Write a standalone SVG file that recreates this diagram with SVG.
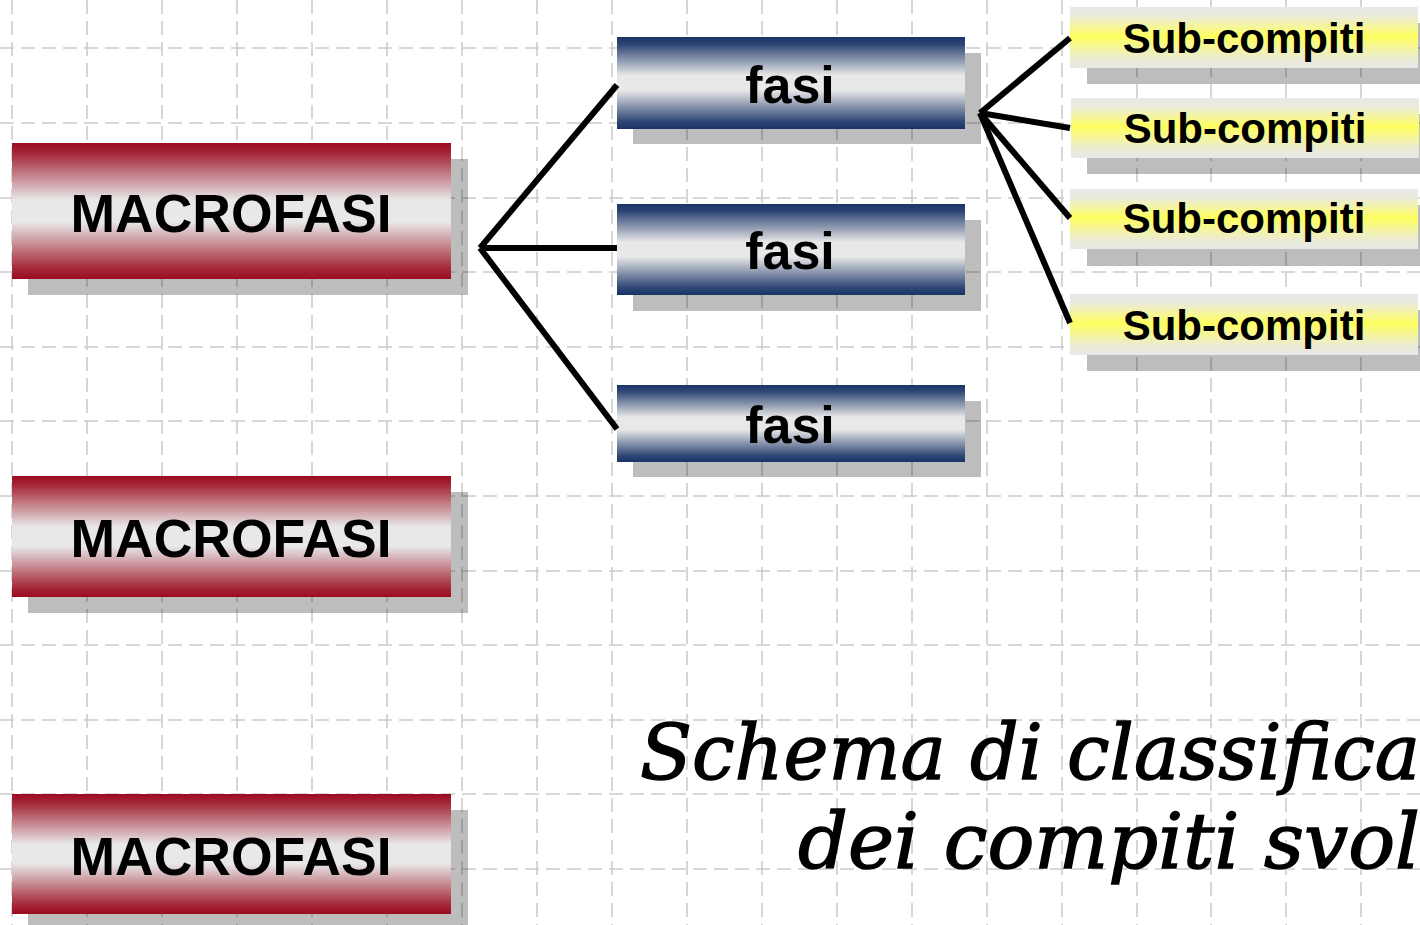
<svg xmlns="http://www.w3.org/2000/svg" width="1420" height="925" viewBox="0 0 1420 925">
  <style>
    .grid line { stroke: #cccccc; stroke-width: 1.6; stroke-dasharray: 14 7; }
    .shadow { fill: #000000; fill-opacity: 0.26; }
    .macro { fill: url(#gRed); }
    .fase { fill: url(#gBlue); }
    .sub { fill: url(#gYellow); }
    .lbl { font-family: "Liberation Sans", Arial, sans-serif; font-weight: bold; fill: #000000; text-anchor: middle; }
    .lbl-macro { font-size: 53.5px; }
    .lbl-fase { font-size: 52px; }
    .lbl-sub { font-size: 42px; }
    .conn line { stroke: #000000; stroke-width: 6; stroke-linecap: butt; }
    .title { font-family: "DejaVu Serif", "Liberation Serif", serif; font-style: italic; font-size: 76px; fill: #000000; stroke: #000000; stroke-width: 1.4; }
  </style>
  <defs>
    <linearGradient id="gRed" x1="0" y1="0" x2="0" y2="1">
      <stop offset="0" stop-color="#9c0a20"/>
      <stop offset="0.08" stop-color="#a52a3a"/>
      <stop offset="0.42" stop-color="#e8e8e8"/>
      <stop offset="0.58" stop-color="#e8e8e8"/>
      <stop offset="0.92" stop-color="#a52a3a"/>
      <stop offset="1" stop-color="#9c0a20"/>
    </linearGradient>
    <linearGradient id="gBlue" x1="0" y1="0" x2="0" y2="1">
      <stop offset="0" stop-color="#183466"/>
      <stop offset="0.08" stop-color="#2e4675"/>
      <stop offset="0.42" stop-color="#e8e8e8"/>
      <stop offset="0.58" stop-color="#e8e8e8"/>
      <stop offset="0.92" stop-color="#2e4675"/>
      <stop offset="1" stop-color="#183466"/>
    </linearGradient>
    <linearGradient id="gYellow" x1="0" y1="0" x2="0" y2="1">
      <stop offset="0" stop-color="#e8e8e8"/>
      <stop offset="0.15" stop-color="#ebebdc"/>
      <stop offset="0.48" stop-color="#ffff60"/>
      <stop offset="0.85" stop-color="#ebebd6"/>
      <stop offset="1" stop-color="#e8e8e8"/>
    </linearGradient>
  </defs>

  <rect x="0" y="0" width="1420" height="925" fill="#ffffff"/>

  <g class="grid">
    <line x1="12" y1="0" x2="12" y2="925"/>
    <line x1="87" y1="0" x2="87" y2="925"/>
    <line x1="162" y1="0" x2="162" y2="925"/>
    <line x1="237" y1="0" x2="237" y2="925"/>
    <line x1="312" y1="0" x2="312" y2="925"/>
    <line x1="387" y1="0" x2="387" y2="925"/>
    <line x1="462" y1="0" x2="462" y2="925"/>
    <line x1="537" y1="0" x2="537" y2="925"/>
    <line x1="612" y1="0" x2="612" y2="925"/>
    <line x1="687" y1="0" x2="687" y2="925"/>
    <line x1="762" y1="0" x2="762" y2="925"/>
    <line x1="837" y1="0" x2="837" y2="925"/>
    <line x1="912" y1="0" x2="912" y2="925"/>
    <line x1="987" y1="0" x2="987" y2="925"/>
    <line x1="1062" y1="0" x2="1062" y2="925"/>
    <line x1="1137" y1="0" x2="1137" y2="925"/>
    <line x1="1211" y1="0" x2="1211" y2="925"/>
    <line x1="1286" y1="0" x2="1286" y2="925"/>
    <line x1="1361" y1="0" x2="1361" y2="925"/>
    <line x1="0" y1="48" x2="1420" y2="48"/>
    <line x1="0" y1="123" x2="1420" y2="123"/>
    <line x1="0" y1="198" x2="1420" y2="198"/>
    <line x1="0" y1="272" x2="1420" y2="272"/>
    <line x1="0" y1="347" x2="1420" y2="347"/>
    <line x1="0" y1="421" x2="1420" y2="421"/>
    <line x1="0" y1="496" x2="1420" y2="496"/>
    <line x1="0" y1="571" x2="1420" y2="571"/>
    <line x1="0" y1="645" x2="1420" y2="645"/>
    <line x1="0" y1="720" x2="1420" y2="720"/>
    <line x1="0" y1="794" x2="1420" y2="794"/>
    <line x1="0" y1="869" x2="1420" y2="869"/>
  </g>

  <g id="macrofasi-1">
    <rect class="shadow" x="28" y="159" width="440" height="136"/>
    <rect class="macro" x="12" y="143" width="439" height="136"/>
    <text class="lbl lbl-macro" x="231" y="232">MACROFASI</text>
  </g>
  <g id="macrofasi-2">
    <rect class="shadow" x="28" y="492" width="440" height="121"/>
    <rect class="macro" x="12" y="476" width="439" height="121"/>
    <text class="lbl lbl-macro" x="231" y="557">MACROFASI</text>
  </g>
  <g id="macrofasi-3">
    <rect class="shadow" x="28" y="810" width="440" height="120"/>
    <rect class="macro" x="12" y="794" width="439" height="120"/>
    <text class="lbl lbl-macro" x="231" y="875">MACROFASI</text>
  </g>

  <g id="fasi-1">
    <rect class="shadow" x="633" y="53" width="348" height="91"/>
    <rect class="fase" x="617" y="37" width="348" height="92"/>
    <text class="lbl lbl-fase" x="790" y="103">fasi</text>
  </g>
  <g id="fasi-2">
    <rect class="shadow" x="633" y="220" width="348" height="91"/>
    <rect class="fase" x="617" y="204" width="348" height="91"/>
    <text class="lbl lbl-fase" x="790" y="269">fasi</text>
  </g>
  <g id="fasi-3">
    <rect class="shadow" x="633" y="401" width="348" height="76"/>
    <rect class="fase" x="617" y="385" width="348" height="77"/>
    <text class="lbl lbl-fase" x="790" y="443">fasi</text>
  </g>

  <g id="sub-1">
    <rect class="shadow" x="1087" y="23" width="333" height="61"/>
    <rect class="sub" x="1070" y="7" width="348" height="61"/>
    <text class="lbl lbl-sub" x="1244" y="53">Sub-compiti</text>
  </g>
  <g id="sub-2">
    <rect class="shadow" x="1087" y="114" width="333" height="60"/>
    <rect class="sub" x="1071" y="98" width="348" height="60"/>
    <text class="lbl lbl-sub" x="1245" y="143">Sub-compiti</text>
  </g>
  <g id="sub-3">
    <rect class="shadow" x="1087" y="205" width="333" height="61"/>
    <rect class="sub" x="1070" y="189" width="348" height="60"/>
    <text class="lbl lbl-sub" x="1244" y="233">Sub-compiti</text>
  </g>
  <g id="sub-4">
    <rect class="shadow" x="1087" y="310" width="333" height="61"/>
    <rect class="sub" x="1070" y="294" width="348" height="61"/>
    <text class="lbl lbl-sub" x="1244" y="340">Sub-compiti</text>
  </g>

  <g id="connectors" class="conn">
    <line x1="480" y1="248" x2="617" y2="85"/>
    <line x1="480" y1="248" x2="617" y2="248"/>
    <line x1="480" y1="248" x2="617" y2="429"/>
    <line x1="980" y1="113" x2="1070" y2="38"/>
    <line x1="980" y1="113" x2="1070" y2="128"/>
    <line x1="980" y1="113" x2="1070" y2="218"/>
    <line x1="980" y1="113" x2="1070" y2="323"/>
  </g>

  <g id="title">
    <text class="title" x="640" y="779" textLength="780" lengthAdjust="spacingAndGlyphs">Schema di classifica</text>
    <text class="title" x="798" y="868" textLength="622" lengthAdjust="spacingAndGlyphs">dei compiti svol</text>
  </g>
</svg>
